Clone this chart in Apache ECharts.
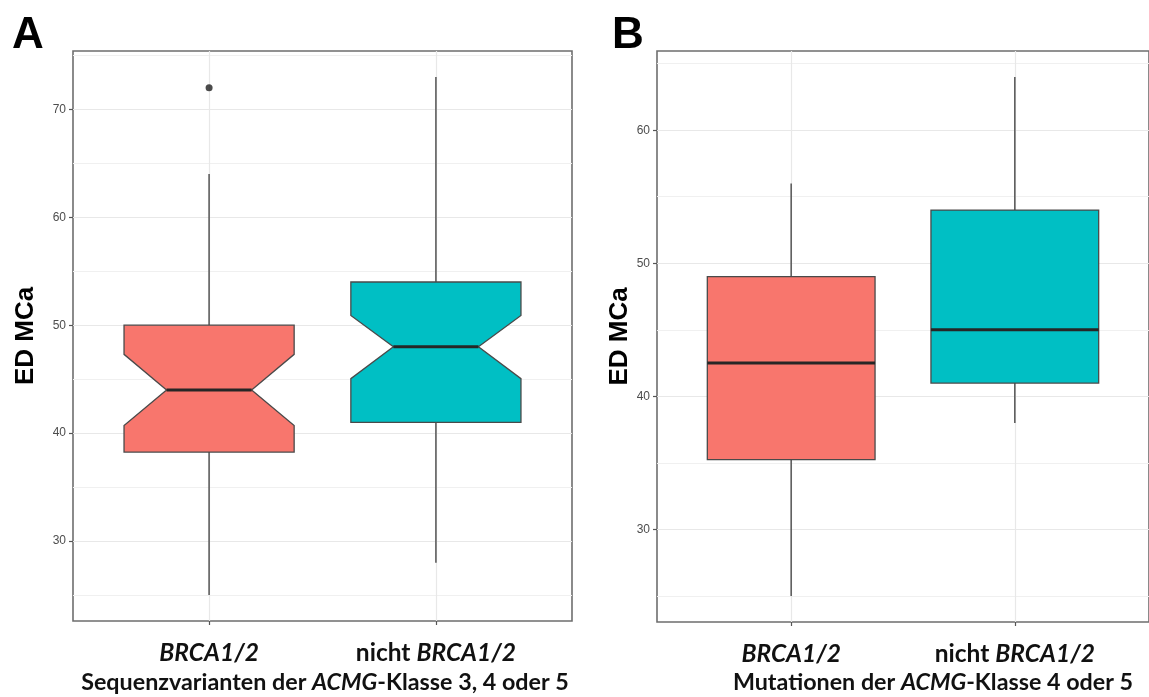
<!DOCTYPE html>
<html><head><meta charset="utf-8">
<script src="https://cdn.jsdelivr.net/npm/echarts@6/dist/echarts.min.js"></script>
<style>html,body{margin:0;padding:0;background:#fff}#c{width:1149px;height:697px}</style>
</head><body><div id="c"></div>
<script>
// ---------- data ----------
const categories = [['', 'BRCA1/2'], ['nicht ', 'BRCA1/2']];
const positions = [1, 2];
const boxColors = ['#F8766D', '#00BFC4'];

// Panel A (notched)
const aMin = [25, 28];
const aQ1 = [38.25, 41];
const aNotchLow = [40.7, 45.05];
const aMedian = [44, 48];
const aNotchHigh = [47.3, 50.9];
const aQ3 = [50, 54];
const aMax = [64, 73];
const aOutliers = [[1, 72]];
const aTicks = [30, 40, 50, 60, 70];
const aMinor = [25, 35, 45, 55, 65, 75];

// Panel B
const bMin = [25, 38];
const bQ1 = [35.25, 41];
const bMedian = [42.5, 45];
const bQ3 = [49, 54];
const bMax = [56, 64];
const bTicks = [30, 40, 50, 60];
const bMinor = [25, 35, 45, 55, 65];

const titleA = ['Sequenzvarianten der ', 'ACMG', '-Klasse 3, 4 oder 5'];
const titleB = ['Mutationen der ', 'ACMG', '-Klasse 4 oder 5'];
const yName = 'ED MCa';

// ---------- helpers ----------
function expand(lo, hi) { const d = (hi - lo) * 0.05; return [lo - d, hi + d]; }
const aRange = expand(Math.min(...aMin), Math.max(...aMax, ...aOutliers.map(o => o[1])));
const bRange = expand(Math.min(...bMin), Math.max(...bMax));

function boxRender(notched) {
  return function (params, api) {
    const x = api.value(0), lo = api.value(1), q1 = api.value(2), nlo = api.value(3),
      med = api.value(4), nhi = api.value(5), q3 = api.value(6), hi = api.value(7);
    const hw = 0.375, nw = 0.1875;
    const P = (xx, yy) => api.coord([xx, yy]);
    let pts;
    if (notched) {
      pts = [P(x - hw, q3), P(x + hw, q3), P(x + hw, nhi), P(x + nw, med), P(x + hw, nlo),
        P(x + hw, q1), P(x - hw, q1), P(x - hw, nlo), P(x - nw, med), P(x - hw, nhi)];
    } else {
      pts = [P(x - hw, q3), P(x + hw, q3), P(x + hw, q1), P(x - hw, q1)];
    }
    const mw = notched ? nw : hw;
    const a = P(x, hi), b = P(x, q3), c = P(x, q1), d = P(x, lo);
    const m1 = P(x - mw, med), m2 = P(x + mw, med);
    const wStyle = { stroke: '#5e5e5e', lineWidth: 1.6 };
    return {
      type: 'group', children: [
        { type: 'line', shape: { x1: a[0], y1: a[1], x2: b[0], y2: b[1] }, style: wStyle },
        { type: 'line', shape: { x1: c[0], y1: c[1], x2: d[0], y2: d[1] }, style: wStyle },
        { type: 'polygon', shape: { points: pts }, style: { fill: boxColors[params.dataIndex], stroke: '#4a4a4a', lineWidth: 1.3 } },
        { type: 'line', shape: { x1: m1[0], y1: m1[1], x2: m2[0], y2: m2[1] }, style: { stroke: '#262626', lineWidth: 3 } }
      ]
    };
  };
}

const catFont = { fontFamily: 'Lato', fontWeight: 'bold', fontSize: 24.5, color: '#111', lineHeight: 28 };
function xAxisCfg(idx) {
  return {
    type: 'value', gridIndex: idx, min: 0.4, max: 2.6,
    axisLine: { show: false },
    axisTick: { show: true, customValues: positions, length: 4, lineStyle: { color: '#555', width: 1.2 } },
    axisLabel: {
      customValues: positions, margin: 18,
      formatter: v => { const c = categories[Math.round(v) - 1]; return (c[0] ? '{n|' + c[0] + '}' : '') + '{i|' + c[1] + '}'; },
      rich: { n: Object.assign({}, catFont), i: Object.assign({ fontStyle: 'italic' }, catFont) }
    },
    splitLine: { show: false }
  };
}
function yAxisCfg(idx, range, ticks, gap) {
  return {
    type: 'value', gridIndex: idx, min: range[0], max: range[1],
    name: yName, nameLocation: 'middle', nameGap: gap,
    nameTextStyle: { fontFamily: 'Liberation Sans', fontWeight: 'bold', fontSize: 26, color: '#000' },
    axisLine: { show: false },
    axisTick: { show: true, customValues: ticks, length: 4, lineStyle: { color: '#555', width: 1.2 } },
    axisLabel: { customValues: ticks, margin: 7, fontFamily: 'Liberation Sans', fontSize: 12, color: '#4d4d4d' },
    splitLine: { show: false }
  };
}
function gridLines(idx, major, minor) {
  return [
    { type: 'line', xAxisIndex: idx, yAxisIndex: idx, data: [], z: 0, silent: true,
      markLine: { silent: true, z: 0, symbol: 'none', label: { show: false }, animation: false,
        lineStyle: { color: '#f0f0f0', type: 'solid', width: 1 },
        data: minor.map(v => ({ yAxis: v })) } },
    { type: 'line', xAxisIndex: idx, yAxisIndex: idx, data: [], z: 0, silent: true,
      markLine: { silent: true, z: 0, symbol: 'none', label: { show: false }, animation: false,
        lineStyle: { color: '#e8e8e8', type: 'solid', width: 1.2 },
        data: major.map(v => ({ yAxis: v })).concat(positions.map(p => ({ xAxis: p }))) } }
  ];
}
const titleFont = { fontFamily: 'Lato', fontWeight: 'bold', fontSize: 23.3, color: '#111' };
function titleText(parts) { return parts[0] + '{i|' + parts[1] + '}' + parts[2]; }

const dataA = positions.map((p, i) => [p, aMin[i], aQ1[i], aNotchLow[i], aMedian[i], aNotchHigh[i], aQ3[i], aMax[i]]);
const dataB = positions.map((p, i) => [p, bMin[i], bQ1[i], bMedian[i], bMedian[i], bMedian[i], bQ3[i], bMax[i]]);

const chart = echarts.init(document.getElementById('c'), null, { renderer: 'canvas' });
chart.setOption({
  animation: false,
  backgroundColor: '#fff',
  title: [
    { text: 'A', left: 12, top: 14, padding: 0, textStyle: { fontFamily: 'Liberation Sans', fontWeight: 'bold', fontSize: 44, color: '#000' } },
    { text: 'B', left: 612, top: 14, padding: 0, textStyle: { fontFamily: 'Liberation Sans', fontWeight: 'bold', fontSize: 44, color: '#000' } },
    { text: titleText(titleA), left: 325, top: 671, padding: 0, textAlign: 'center',
      textStyle: Object.assign({ rich: { i: Object.assign({ fontStyle: 'italic' }, titleFont) } }, titleFont) },
    { text: titleText(titleB), left: 933, top: 671, padding: 0, textAlign: 'center',
      textStyle: Object.assign({ rich: { i: Object.assign({ fontStyle: 'italic' }, titleFont) } }, titleFont) }
  ],
  grid: [
    { left: 73, top: 51, width: 499, height: 570, show: true, borderColor: '#6e6e6e', borderWidth: 1.6, backgroundColor: 'transparent' },
    { left: 657, top: 51, width: 497, height: 571, show: true, borderColor: '#6e6e6e', borderWidth: 1.6, backgroundColor: 'transparent' }
  ],
  xAxis: [xAxisCfg(0), xAxisCfg(1)],
  yAxis: [yAxisCfg(0, aRange, aTicks, 34), yAxisCfg(1, bRange, bTicks, 22)],
  series: [
    ...gridLines(0, aTicks, aMinor),
    ...gridLines(1, bTicks, bMinor),
    { type: 'custom', xAxisIndex: 0, yAxisIndex: 0, z: 5, renderItem: boxRender(true),
      encode: { x: 0, y: [1, 2, 3, 4, 5, 6, 7] }, data: dataA },
    { type: 'custom', xAxisIndex: 1, yAxisIndex: 1, z: 5, renderItem: boxRender(false),
      encode: { x: 0, y: [1, 2, 3, 4, 5, 6, 7] }, data: dataB },
    { type: 'scatter', xAxisIndex: 0, yAxisIndex: 0, z: 6, symbol: 'circle', symbolSize: 7,
      itemStyle: { color: '#1e1e1e', borderWidth: 0 }, data: aOutliers }
  ]
});
</script></body></html>
